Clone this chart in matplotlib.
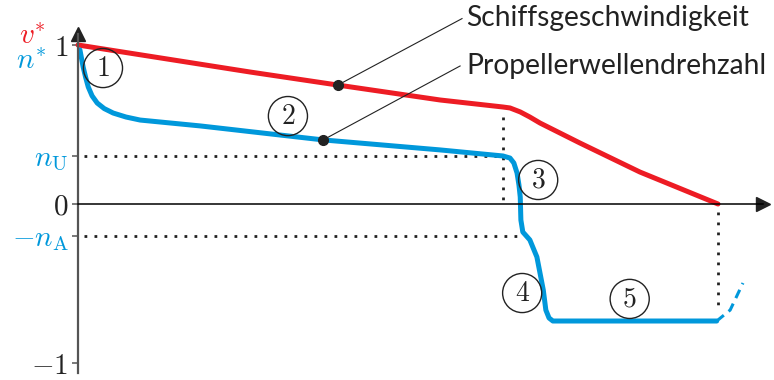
import matplotlib
matplotlib.use("Agg")
import matplotlib.pyplot as plt

plt.rcParams['mathtext.fontset'] = 'cm'

RED = '#ED1C24'
BLUE = '#0098DB'

# ship speed v* over time (normalised)
t_ship = [0.0, 0.269, 0.406, 0.566, 0.664, 0.675, 0.691, 0.706, 0.722, 0.784, 0.878, 1.0]
v_ship = [1.0, 0.830, 0.748, 0.654, 0.610, 0.604, 0.579, 0.547, 0.509, 0.384, 0.201, 0.0]

# propeller shaft speed n* over time (normalised)
t_prop = [0.003, 0.008, 0.012, 0.016, 0.022, 0.030, 0.041, 0.055, 0.075, 0.097, 0.191,
          0.383, 0.566, 0.664, 0.675, 0.681, 0.686, 0.689, 0.691, 0.692, 0.695, 0.706,
          0.717, 0.727, 0.731, 0.736, 0.742, 0.998]
n_prop = [0.969, 0.862, 0.795, 0.736, 0.680, 0.635, 0.600, 0.572, 0.547, 0.528, 0.491,
          0.403, 0.340, 0.302, 0.289, 0.258, 0.195, 0.119, 0.044, -0.101, -0.176, -0.226,
          -0.333, -0.541, -0.667, -0.717, -0.736, -0.736]
t_prop_next = [0.998, 1.019, 1.039]
n_prop_next = [-0.736, -0.667, -0.497]

n_U = 0.302
n_A = 0.20
t_U = 0.664
t_A = 0.686
t_end = 1.0

fig = plt.figure(figsize=(7.74, 3.80), dpi=100)
ax = fig.add_axes([0, 0, 1, 1])
ax.set_xlim(-0.1219, 1.0875)
ax.set_ylim(-1.107, 1.283)

# axes through the origin
for s in ['top', 'right']:
    ax.spines[s].set_visible(False)
ax.spines['left'].set_position(('data', 0))
ax.spines['left'].set_bounds(-1.06, 1.07)
ax.spines['left'].set_color('#555555')
ax.spines['left'].set_linewidth(1.6)
ax.spines['bottom'].set_position(('data', 0))
ax.spines['bottom'].set_bounds(0, 1.07)
ax.spines['bottom'].set_linewidth(1.1)
ax.set_xticks([])
ax.set_yticks([1, n_U, 0, -n_A, -1])
ax.set_yticklabels([r'$1$', r'$n_{\mathrm{U}}$', r'$0$', r'$-n_{\mathrm{A}}$', r'$-1$'],
                   fontsize=21)
for lab, c in zip(ax.get_yticklabels(), ['#222222', BLUE, '#222222', BLUE, '#222222']):
    lab.set_color(c)
ax.tick_params(axis='y', length=4, width=1.1, color='#555555', pad=3)

ax.plot(0, 1.07, marker='^', color='#222222', markersize=10, clip_on=False)
ax.plot(1.07, 0, marker='>', color='#222222', markersize=10, clip_on=False)
ax.text(1.09, -0.06, r'$t$', fontsize=21, color='#222222', va='top', ha='left')

ax.text(-0.050, 1.06, r'$v^{*}$', fontsize=21, color=RED, ha='right', va='center')
ax.text(-0.050, 0.90, r'$n^{*}$', fontsize=21, color=BLUE, ha='right', va='center')

# dotted guide lines
dot = dict(color='#222222', lw=2.0, linestyle=(0, (1, 2.6)))
ax.plot([0.01, t_U], [n_U, n_U], **dot)
ax.plot([t_U, t_U], [0.55, 0.0], **dot)
ax.plot([0.01, t_A], [-n_A, -n_A], **dot)
ax.plot([t_end, t_end], [-0.05, -0.68], **dot)

ax.plot(t_ship, v_ship, color=RED, lw=3.6, solid_capstyle='round', solid_joinstyle='round')
ax.plot(t_prop, n_prop, color=BLUE, lw=3.6, solid_capstyle='round', solid_joinstyle='round')
ax.plot(t_prop_next, n_prop_next, color=BLUE, lw=2.2, linestyle=(0, (3, 2)))

# labelled points with leader lines
ax.plot([t_ship[2], 0.600], [v_ship[2], 1.166], color='#222222', lw=0.8)
ax.plot([t_prop[11], 0.597], [n_prop[11], 0.868], color='#222222', lw=0.8)
ax.plot(t_ship[2], v_ship[2], 'o', color='#222222', markersize=7)
ax.plot(t_prop[11], n_prop[11], 'o', color='#222222', markersize=7)
ax.text(0.607, 1.17, 'Schiffsgeschwindigkeit', fontsize=20.3, family='Lato',
        color='#222222', va='center', ha='left')
ax.text(0.607, 0.87, 'Propellerwellendrehzahl', fontsize=20.3, family='Lato',
        color='#222222', va='center', ha='left')

# circled phase numbers
phases = ['1', '2', '3', '4', '5']
phase_t = [0.039, 0.328, 0.719, 0.694, 0.862]
phase_y = [0.855, 0.553, 0.151, -0.560, -0.597]
for p, x, y in zip(phases, phase_t, phase_y):
    ax.text(x, y, '$' + p + '$', fontsize=20, color='#222222', ha='center', va='center',
            bbox=dict(boxstyle='circle,pad=0.2', fc='none', ec='#222222', lw=1.0))

fig.savefig('out.png', dpi=100)
